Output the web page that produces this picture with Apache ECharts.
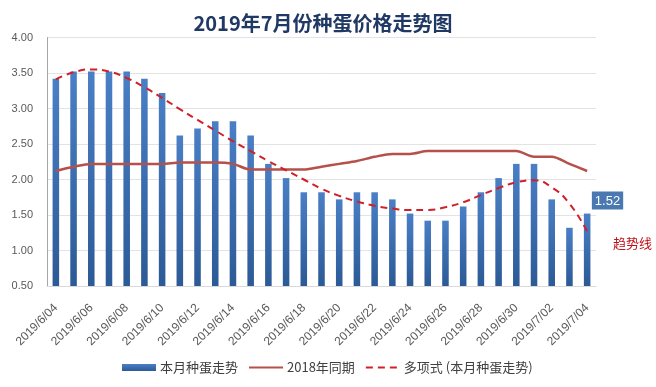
<!DOCTYPE html>
<html><head><meta charset="utf-8">
<script src="https://cdn.jsdelivr.net/npm/echarts@6/dist/echarts.min.js"></script>
<style>html,body{margin:0;padding:0;background:#fff}#c{width:656px;height:387px}</style>
</head><body><div id="c"></div>
<script>
const categories = ['2019/6/04','2019/6/05','2019/6/06','2019/6/07','2019/6/08','2019/6/09','2019/6/10','2019/6/11','2019/6/12','2019/6/13','2019/6/14','2019/6/15','2019/6/16','2019/6/17','2019/6/18','2019/6/19','2019/6/20','2019/6/21','2019/6/22','2019/6/23','2019/6/24','2019/6/25','2019/6/26','2019/6/27','2019/6/28','2019/6/29','2019/6/30','2019/7/01','2019/7/02','2019/7/03','2019/7/04'];
const thisMonth = [3.42,3.52,3.52,3.52,3.52,3.42,3.22,2.62,2.72,2.82,2.82,2.62,2.22,2.02,1.82,1.82,1.72,1.82,1.82,1.72,1.52,1.42,1.42,1.62,1.82,2.02,2.22,2.22,1.72,1.32,1.52];
const lastYear = [2.12,2.18,2.22,2.22,2.22,2.22,2.22,2.24,2.24,2.24,2.22,2.14,2.14,2.14,2.14,2.18,2.22,2.26,2.32,2.36,2.36,2.40,2.40,2.40,2.40,2.40,2.40,2.32,2.32,2.22,2.12];
const trend = [3.41,3.51,3.55,3.52,3.43,3.30,3.15,2.99,2.84,2.69,2.54,2.40,2.26,2.13,2.00,1.87,1.77,1.69,1.63,1.59,1.57,1.57,1.61,1.68,1.78,1.88,1.96,1.99,1.89,1.66,1.27];
const yTicks = {min:0.5, max:4, interval:0.5};

const chart = echarts.init(document.getElementById('c'));
const barData = thisMonth.map((v,i)=> i===thisMonth.length-1 ? {
  value:v,
  label:{show:true, position:[8,-22], align:'left', verticalAlign:'top',
    formatter:(p)=>p.value.toFixed(2), color:'#fff', fontSize:13,
    backgroundColor:'#4a78b0', padding:[3,3,2,3], fontFamily:'Liberation Sans, Arial, sans-serif'}
} : v);
chart.setOption({
  animation:false,
  title:{text:'2019年7月份种蛋价格走势图', left:318, top:8, textAlign:'center',
    textStyle:{fontSize:20, fontWeight:'bold', color:'#1f3864', fontFamily:'"Noto Sans CJK SC", sans-serif'}},
  grid:{left:47, right:60, top:37.5, bottom:101},
  legend:{bottom:8, left:117, itemGap:10, itemWidth:34, itemHeight:7,
    textStyle:{fontSize:13, color:'#404040', fontFamily:'"Noto Sans CJK SC", sans-serif', padding:[0,0,0,-1]},
    data:[{name:'本月种蛋走势', icon:'rect'},{name:'2018年同期', itemStyle:{opacity:0}},{name:'多项式 (本月种蛋走势)', itemStyle:{opacity:0}}]},
  xAxis:{type:'category', data:categories, boundaryGap:true,
    axisLine:{lineStyle:{color:'#d9d9d9'}}, axisTick:{show:false},
    axisLabel:{interval:1, rotate:45, fontSize:12, color:'#595959', margin:20, fontFamily:'Liberation Sans, Arial, sans-serif'}},
  yAxis:{type:'value', min:yTicks.min, max:yTicks.max, interval:yTicks.interval,
    axisLine:{show:true, lineStyle:{color:'#a6a6a6'}}, axisTick:{show:false},
    axisLabel:{formatter:(v)=>v.toFixed(2), fontSize:11, color:'#595959', margin:14, fontFamily:'Liberation Sans, Arial, sans-serif'},
    splitLine:{lineStyle:{color:'#e3e3e3'}}},
  series:[
    {name:'本月种蛋走势', type:'bar', data:barData, barWidth:'37%',
      itemStyle:{color:new echarts.graphic.LinearGradient(0,0,0,1,[{offset:0,color:'#4a7fc6'},{offset:1,color:'#2c5a96'}])}},
    {name:'2018年同期', type:'line', data:lastYear, symbol:'none', smooth:0.3,
      lineStyle:{color:'#b5504b', width:2.5}, itemStyle:{color:'#b5504b'}},
    {name:'多项式 (本月种蛋走势)', type:'line', data:trend, symbol:'none', smooth:true,
      lineStyle:{color:'#d0202a', width:2, type:[7,5]}, itemStyle:{color:'#d0202a'}}
  ],
  graphic:[{type:'text', left:613, top:237, style:{text:'趋势线', fill:'#c0101a', fontSize:13, fontFamily:'"Noto Sans CJK SC", sans-serif'}}]
});
</script></body></html>
